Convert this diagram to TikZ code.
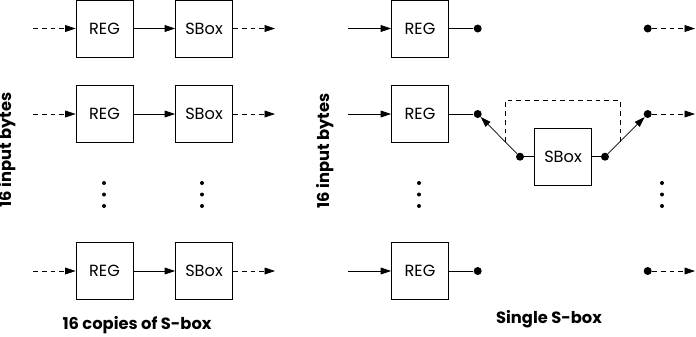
\documentclass[tikz,border=0pt]{standalone}
\usepackage{fontspec}
\setmainfont{Poppins}
\usetikzlibrary{arrows.meta,calc}

\tikzset{
  blk/.style={draw, line width=0.6pt, minimum width=14.25mm, minimum height=14.25mm,
    inner sep=0pt, font=\fontsize{11.5}{12}\selectfont},
  wire/.style={line width=0.5pt},
  flow/.style={wire, -{Triangle[length=2.6mm,width=1.7mm]}},
  dash line/.style={dash pattern=on 1.2mm off 1mm},
  pin/.style={circle, fill, inner sep=0pt, minimum size=2mm},
  vdot/.style={circle, fill, inner sep=0pt, minimum size=1mm},
  caption/.style={font=\bfseries\fontsize{11.6}{13}\selectfont},
}

\begin{document}
\begin{tikzpicture}[x=0.25mm, y=-0.25mm]
  \useasboundingbox (0,0) rectangle (696,336);

  % one S-box for every byte
  \foreach \r/\y in {1/28.5, 2/114, 3/271} {
    \node[blk] (reg\r) at (104.5,\y) {REG};
    \node[blk] (sbx\r) at (204,\y) {SBox};
    \coordinate (in\r) at (33,\y);
    \coordinate (out\r) at (275,\y);
    \draw[flow, dash line] (in\r) -- (reg\r);
    \draw[flow] (reg\r) -- (sbx\r);
    \draw[flow, dash line] (sbx\r) -- (out\r);
  }

  % one S-box shared by all bytes
  \foreach \r/\y in {1/28.5, 2/114, 3/271} {
    \node[blk] (rreg\r) at (420,\y) {REG};
    \coordinate (rin\r) at (348,\y);
    \node[pin] (tapL\r) at (477.7,\y) {};
    \node[pin] (tapR\r) at (647.7,\y) {};
    \coordinate (rout\r) at (695,\y);
    \draw[flow] (rin\r) -- (rreg\r);
    \draw[wire] (rreg\r) -- (tapL\r);
    \draw[flow, dash line] (tapR\r) -- (rout\r);
  }
  \node[blk] (share) at (563,156.7) {SBox};
  \node[pin] (muxin) at (520,156.7) {};
  \node[pin] (muxout) at (605,156.7) {};
  \draw[wire] (muxin) -- (share) -- (muxout);
  \draw[flow] (muxin) -- (tapL2);
  \draw[flow] (muxout) -- (tapR2);
  \draw[wire, dash line] ($(muxin)!0.34!(tapL2)$) -- ++(0,-42)
    -| ($(muxout)!0.35!(tapR2)$);

  % rows left out
  \foreach \x [count=\c] in {104, 202, 419, 662}
    \foreach \y [count=\k] in {183, 194.5, 206}
      \node[vdot] (gap\c\k) at (\x,\y) {};

  \node[caption, rotate=90] (lbytes) at (7,150) {16 input bytes};
  \node[caption, rotate=90] (rbytes) at (325,151) {16 input bytes};
  \node[caption] (lcap) at (137,325) {16 copies of S-box};
  \node[caption] (rcap) at (549,319) {Single S-box};
\end{tikzpicture}
\end{document}
